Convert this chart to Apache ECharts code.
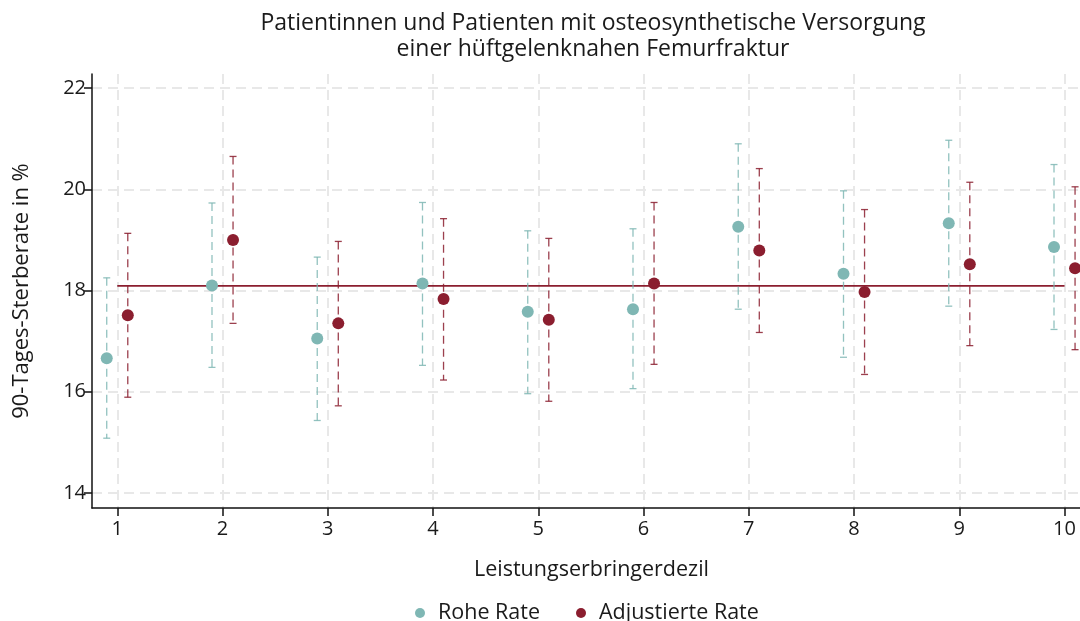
<!DOCTYPE html>
<html><head><meta charset="utf-8">
<script src="https://cdn.jsdelivr.net/npm/echarts@6/dist/echarts.min.js"></script>
<style>html,body{margin:0;padding:0;background:#fff}#c{width:1080px;height:621px}</style>
</head><body><div id="c"></div>
<script>
// ---- data ----
const categories = [1, 2, 3, 4, 5, 6, 7, 8, 9, 10];
const yTicks = [14, 16, 18, 20, 22];
const roheRate = [16.66, 18.10, 17.05, 18.14, 17.58, 17.63, 19.26, 18.33, 19.33, 18.86];
const roheLow  = [15.08, 16.48, 15.43, 16.52, 15.96, 16.06, 17.63, 16.68, 17.69, 17.23];
const roheHigh = [18.25, 19.73, 18.66, 19.74, 19.18, 19.22, 20.90, 19.97, 20.97, 20.49];
const adjRate  = [17.51, 19.00, 17.35, 17.83, 17.42, 18.14, 18.79, 17.97, 18.52, 18.44];
const adjLow   = [15.89, 17.35, 15.72, 16.23, 15.81, 16.54, 17.17, 16.34, 16.91, 16.83];
const adjHigh  = [19.13, 20.65, 18.97, 19.42, 19.03, 19.74, 20.41, 19.60, 20.14, 20.05];
const referenceRate = 18.09;
const titleLines = ['Patientinnen und Patienten mit osteosynthetische Versorgung', 'einer hüftgelenknahen Femurfraktur'];
const xName = 'Leistungserbringerdezil';
const yName = '90-Tages-Sterberate in %';
const seriesNames = ['Rohe Rate', 'Adjustierte Rate'];

// ---- chart ----
const FONT = 'Open Sans';
const TEAL = '#7FB7B4', RED = '#8B1E2F', TEXT = '#1a1a1a';
const OFF = 0.1;
const chart = echarts.init(document.getElementById('c'), null, {renderer: 'canvas'});

function errSeries(name, low, high, off, color) {
  return {
    type: 'custom', name: name, silent: true, z: 3,
    data: categories.map((c, i) => [c + off, low[i], high[i]]),
    encode: {x: 0, y: [1, 2]},
    renderItem: function (params, api) {
      const x = api.value(0);
      const lo = api.coord([x, api.value(1)]);
      const hi = api.coord([x, api.value(2)]);
      const hw = 3.5;
      return {type: 'group', children: [
        {type: 'line', shape: {x1: hi[0], y1: hi[1], x2: lo[0], y2: lo[1]}, style: {stroke: color, lineWidth: 1.3, lineDash: [8, 5], opacity: 0.85}},
        {type: 'line', shape: {x1: hi[0] - hw, y1: hi[1], x2: hi[0] + hw, y2: hi[1]}, style: {stroke: color, lineWidth: 1.3, opacity: 0.85}},
        {type: 'line', shape: {x1: lo[0] - hw, y1: lo[1], x2: lo[0] + hw, y2: lo[1]}, style: {stroke: color, lineWidth: 1.3, opacity: 0.85}}
      ]};
    }
  };
}

const gridLine = {show: true, lineStyle: {color: '#e8e8e8', width: 2, type: [10, 6]}};

chart.setOption({
  animation: false,
  backgroundColor: '#fff',
  textStyle: {fontFamily: FONT},
  graphic: [{
    type: 'text', x: 593, y: 10,
    style: {text: titleLines.join('\n'), textAlign: 'center', fontFamily: FONT, fontSize: 23, lineHeight: 26, fill: TEXT}
  }],
  grid: {left: 92, top: 74, right: 0, height: 434},
  legend: {
    data: seriesNames, left: 410, top: 597, icon: 'circle', itemWidth: 26, itemHeight: 10, itemGap: 36,
    textStyle: {fontFamily: FONT, fontSize: 21.5, color: TEXT}
  },
  xAxis: {
    type: 'value', min: 0.76, max: 10.147,
    name: xName, nameLocation: 'middle', nameGap: 51,
    nameTextStyle: {fontFamily: FONT, fontSize: 21.5, color: TEXT, padding: [0, 0, 0, 11]},
    axisLine: {show: true, onZero: false, lineStyle: {color: '#111', width: 1.5}},
    axisTick: {show: true, length: 8, customValues: categories, lineStyle: {color: '#111', width: 1.5}},
    axisLabel: {customValues: categories, fontFamily: FONT, fontSize: 20, color: TEXT, margin: 11},
    splitLine: gridLine
  },
  yAxis: {
    type: 'value', min: 13.70, max: 22.28,
    name: yName, nameLocation: 'middle', nameGap: 59, nameRotate: 90,
    nameTextStyle: {fontFamily: FONT, fontSize: 22, color: TEXT},
    axisLine: {show: true, onZero: false, lineStyle: {color: '#111', width: 1.5}},
    axisTick: {show: true, length: 8, customValues: yTicks, lineStyle: {color: '#111', width: 1.5}},
    axisLabel: {customValues: yTicks, fontFamily: FONT, fontSize: 20, color: TEXT, margin: 6},
    splitLine: gridLine
  },
  series: [
    {type: 'line', name: 'Referenz', silent: true, z: 2, showSymbol: false, symbol: 'none',
     data: [[categories[0], referenceRate], [categories[categories.length - 1], referenceRate]],
     lineStyle: {color: RED, width: 1.8}},
    errSeries('Rohe Rate KI', roheLow, roheHigh, -OFF, TEAL),
    errSeries('Adjustierte Rate KI', adjLow, adjHigh, OFF, RED),
    {type: 'scatter', name: seriesNames[0], z: 5, symbolSize: 12,
     itemStyle: {color: TEAL, opacity: 1},
     data: categories.map((c, i) => [c - OFF, roheRate[i]])},
    {type: 'scatter', name: seriesNames[1], z: 5, symbolSize: 12,
     itemStyle: {color: RED, opacity: 1},
     data: categories.map((c, i) => [c + OFF, adjRate[i]])}
  ]
});
</script>
</body></html>
